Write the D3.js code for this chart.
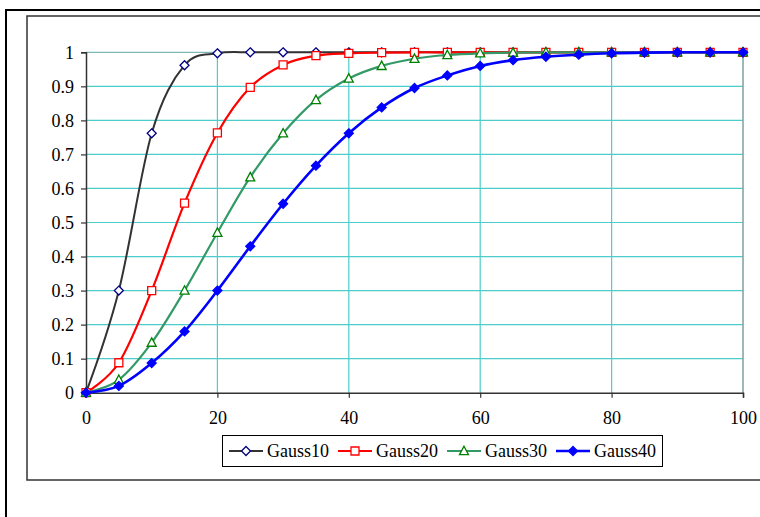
<!DOCTYPE html>
<html><head><meta charset="utf-8">
<script src="https://cdn.jsdelivr.net/npm/d3@7"></script>
<style>body{margin:0;background:#fff}svg{display:block}</style>
</head><body><svg id="c" width="760" height="517"></svg>
<script>
const xValues = [0,5,10,15,20,25,30,35,40,45,50,55,60,65,70,75,80,85,90,95,100];
const gauss10 = [0,0.30,0.762,0.962,0.997,1,1,1,1,1,1,1,1,1,1,1,1,1,1,1,1];
const gauss20 = [0,0.088,0.30,0.557,0.763,0.897,0.963,0.99,0.997,0.999,1,1,1,1,1,1,1,1,1,1,1];
const gauss30 = [0,0.038,0.147,0.30,0.47,0.633,0.762,0.86,0.923,0.96,0.981,0.992,0.997,0.999,1,1,1,1,1,1,1];
const gauss40 = [0,0.02,0.087,0.18,0.30,0.43,0.555,0.667,0.762,0.838,0.895,0.932,0.96,0.977,0.987,0.993,0.997,0.999,1,1,1];
const seriesNames = ["Gauss10","Gauss20","Gauss30","Gauss40"];
const xTicks = [0,20,40,60,80,100];
const yTicks = [0,0.1,0.2,0.3,0.4,0.5,0.6,0.7,0.8,0.9,1];
const FONT = "'Liberation Serif', 'Times New Roman', 'DejaVu Serif', serif";

const svg = d3.select("#c");
svg.append("rect").attr("x",6).attr("y",10).attr("width",800).attr("height",600)
  .attr("fill","#fff").attr("stroke","#000").attr("stroke-width",2);
svg.append("rect").attr("x",27).attr("y",16).attr("width",800).attr("height",464)
  .attr("fill","#fff").attr("stroke","#333").attr("stroke-width",1.5);

const x = d3.scaleLinear().domain([0,100]).range([86,743]);
const y = d3.scaleLinear().domain([0,1]).range([392.7,52.3]);

const grid = svg.append("g");
yTicks.forEach(t=>{ if(t>0) grid.append("line").attr("x1",x(0)).attr("x2",x(100)).attr("y1",y(t)).attr("y2",y(t))
  .attr("stroke", t===1?"#7fb8b8":"#4dcccc").attr("stroke-width",1.2);});
xTicks.forEach(t=>{ if(t>0 && t<100) grid.append("line").attr("x1",x(t)).attr("x2",x(t)).attr("y1",y(0)).attr("y2",y(1))
  .attr("stroke","#4dcccc").attr("stroke-width",1.2);});
svg.append("line").attr("x1",x(100)).attr("x2",x(100)).attr("y1",y(0)).attr("y2",y(1)).attr("stroke","#7f9f9f").attr("stroke-width",1.5);

const xAxis = svg.append("g").attr("transform",`translate(0,${y(0)})`)
  .call(d3.axisBottom(x).tickValues(xTicks).tickSize(5).tickPadding(14).tickFormat(d3.format("d")));
const yAxis = svg.append("g").attr("transform",`translate(${x(0)},0)`)
  .call(d3.axisLeft(y).tickValues(yTicks).tickSize(5).tickPadding(7).tickFormat(d=>String(+d.toFixed(1))));
[xAxis,yAxis].forEach(a=>{
  a.attr("font-family",null);
  a.selectAll("path.domain").attr("stroke","#333").attr("stroke-width",1.5);
  a.selectAll(".tick line").attr("stroke","#333").attr("stroke-width",1.2);
  a.selectAll("text").style("font-family",FONT).style("font-size","18px").attr("fill","#000");
});
yAxis.selectAll("text").attr("dy","0.34em");

const styles = [
  {line:"#333333", mk:"#000080", shape:"diamond", fill:"#fff", w:2},
  {line:"#ff0000", mk:"#ff0000", shape:"square", fill:"#fff", w:2.2},
  {line:"#339966", mk:"#008000", shape:"triangle", fill:"#fff", w:2.2},
  {line:"#0000ff", mk:"#0000ff", shape:"diamond", fill:"#0000ff", w:2.6}
];
const data = [gauss10,gauss20,gauss30,gauss40];

function marker(g, shape, cx, cy, st){
  let p;
  if(shape==="diamond") p=`M${cx},${cy-4.5}L${cx+4.5},${cy}L${cx},${cy+4.5}L${cx-4.5},${cy}Z`;
  else if(shape==="square") p=`M${cx-4},${cy-4}h8v8h-8Z`;
  else p=`M${cx},${cy-4.8}L${cx+4.5},${cy+3.6}L${cx-4.5},${cy+3.6}Z`;
  g.append("path").attr("d",p).attr("fill",st.fill).attr("stroke",st.mk).attr("stroke-width",1.3);
}

const line = d3.line().x(d=>x(d[0])).y(d=>y(d[1])).curve(d3.curveCatmullRom.alpha(0));
data.forEach((vals,i)=>{
  const st = styles[i];
  const pts = xValues.map((xv,j)=>[xv,vals[j]]);
  const g = svg.append("g");
  g.append("path").attr("d",line(pts)).attr("fill","none").attr("stroke",st.line).attr("stroke-width",st.w);
  pts.forEach(p=>marker(g, st.shape, x(p[0]), y(p[1]), st));
});

const lg = svg.append("g");
lg.append("rect").attr("x",222.5).attr("y",435.5).attr("width",440).attr("height",31)
  .attr("fill","#fff").attr("stroke","#000").attr("stroke-width",1);
const lx = [229,338,447,556];
seriesNames.forEach((n,i)=>{
  const st = styles[i];
  lg.append("line").attr("x1",lx[i]).attr("x2",lx[i]+34).attr("y1",451).attr("y2",451)
    .attr("stroke",st.line).attr("stroke-width",st.w);
  marker(lg, st.shape, lx[i]+17, 451, st);
  lg.append("text").attr("x",lx[i]+38).attr("y",451).attr("dy","0.34em")
    .style("font-family",FONT).style("font-size","18px").attr("fill","#000").text(n);
});
</script></body></html>
